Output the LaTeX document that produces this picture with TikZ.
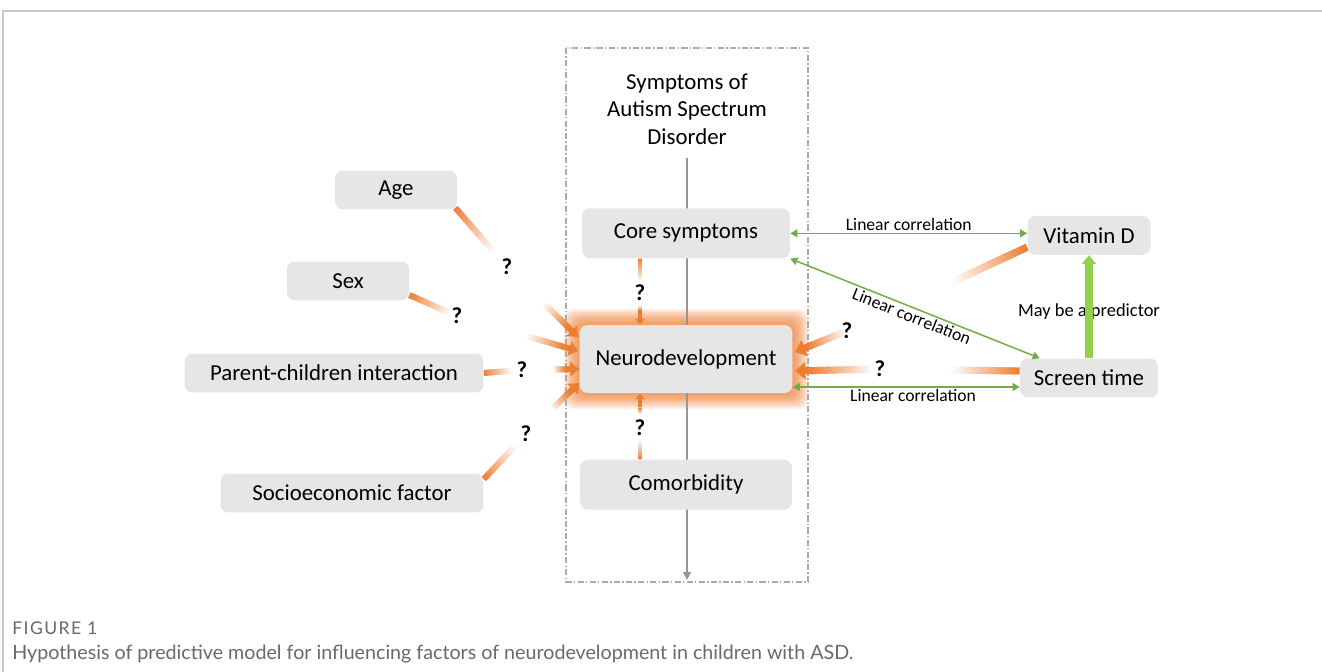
\documentclass[tikz,border=0pt]{standalone}
\usepackage{fontspec}
\setmainfont{Carlito}
\newfontfamily\capfont{Lato}
\newfontfamily\figfont[LetterSpace=8]{Lato}
\usepackage{tikz}
\usetikzlibrary{positioning, calc, arrows.meta, backgrounds}
\pgfdeclarelayer{edges}
\pgfsetlayers{background,edges,main}
\definecolor{boxgray}{RGB}{230, 230, 230}
\definecolor{myorange}{RGB}{237, 125, 49}
\definecolor{mygreen}{RGB}{112, 173, 71}
\definecolor{mylightgreen}{RGB}{146, 208, 80}
\definecolor{framegray}{RGB}{200, 200, 200}
\definecolor{axisgray}{RGB}{150, 150, 150}
\definecolor{capgray}{RGB}{105, 105, 105}

% orange line that fades out from #2 towards #3 (up to fraction #4)
\newcommand{\fadeout}[4][]{%
  \foreach \k in {1,...,20}{%
    \pgfmathsetmacro{\fa}{(\k-1)/20*#4}%
    \pgfmathsetmacro{\fb}{min(\k+0.6,20)/20*#4}%
    \pgfmathtruncatemacro{\fo}{100-(\k-0.5)*5}%
    \draw [fadeline, #1, draw = myorange!\fo!white] ($(#2)!\fa!(#3)$) -- ($(#2)!\fb!(#3)$);
  }}
% orange arrow that fades in from #2 (after fraction #4) to #3
\newcommand{\fadein}[4][]{%
  \coordinate (fs) at ($(#2)!#4!(#3)$);
  \coordinate (fe) at ($(#3)!8pt!(#2)$);
  \foreach \k in {1,...,20}{%
    \pgfmathsetmacro{\fa}{(\k-1)/20}%
    \pgfmathsetmacro{\fb}{min(\k+0.6,20)/20}%
    \pgfmathtruncatemacro{\fo}{5+95*(\k-0.5)/20}%
    \draw [fadeline, #1, draw = myorange!\fo!white] ($(fs)!\fa!(fe)$) -- ($(fs)!\fb!(fe)$);
  }
  \draw [fadeline, #1, -{Triangle[width=0pt 2.4, length=0pt 1.5]}] (fe) -- (#3);}

\begin{document}
\begin{tikzpicture}[x=0.02cm, y=-0.02cm, node distance = 1.32cm,
  state/.style={fill = boxgray, rounded corners = 0.16cm, align = center, inner sep = 0pt,
    minimum height = 0.78cm, font = \fontsize{13}{15.6}\selectfont},
  qmark/.style={font = \fontsize{13}{15}\selectfont\bfseries, inner sep = 1pt},
  fadeline/.style={draw = myorange, line width = 3.4pt},
  corr/.style={draw = mygreen, line width = 0.85pt,
    {Triangle[width=4.5pt, length=4pt]}-{Triangle[width=4.5pt, length=4pt]}},
  corrlabel/.style={font = \fontsize{10}{12}\selectfont, inner sep = 1pt},
  predict/.style={draw = mylightgreen, line width = 4pt, -{Triangle[width=8pt, length=5pt]}},
  axis/.style={draw = axisgray, line width = 1pt, -{Triangle[width=4.5pt, length=4.5pt]}},
  groupbox/.style={draw = axisgray!80, line width = 0.85pt,
    dash pattern = on 3.5pt off 1.3pt on 0.8pt off 1.3pt}]
  \useasboundingbox (0,0) rectangle (1322,672);
  \draw [framegray, line width = 0.9pt] (1322,11) -- (3,11) -- (3,672);

  % nodes
  \node [state, minimum width = 4.26cm, minimum height = 1.36cm] (neuro) at (686,359) {Neurodevelopment};
  \node [state, minimum width = 4.16cm, minimum height = 1cm][above = of neuro] (core) {Core symptoms};
  \node [state, minimum width = 4.24cm, minimum height = 1cm][below = of neuro] (comor) {Comorbidity};
  \node [align = center, font = \fontsize{13}{15.6}\selectfont] (title) at (687,109) {Symptoms of\\Autism Spectrum\\Disorder};
  \node [state, minimum width = 2.44cm] (age) at (396,190) {Age};
  \node [state, minimum width = 2.44cm] (sex) at (348,281) {Sex};
  \node [state, minimum width = 5.98cm] (parent) at (334,373) {Parent-children interaction};
  \node [state, minimum width = 5.26cm] (socio) at (352,493) {Socioeconomic factor};
  \node [state, minimum width = 2.76cm] (screen) at (1089,378) {Screen time};
  \node [state, minimum width = 2.46cm][above = 2.06cm of screen] (vitd) {Vitamin D};

  \node [qmark] (qage) at (507,267) {?};
  \node [qmark] (qsex) at (457,316) {?};
  \node [qmark] (qparent) at (522,370) {?};
  \node [qmark] (qsocio) at (526,434) {?};
  \node [qmark] (qcore) at (640,293) {?};
  \node [qmark] (qcomor) at (640,428) {?};
  \node [qmark] (qvitd) at (847,331) {?};
  \node [qmark] (qscreen) at (880,369) {?};

  \node [corrlabel, font = \fontsize{10.5}{12}\selectfont] (predlabel) at ($(screen.north)!0.45!(vitd.south)$) {May be a predictor};

  \coordinate (age-out) at ($(age.south east)+(-2,-2)$);
  \coordinate (sex-out) at ($(sex.east)+(0,14)$);
  \coordinate (parent-out) at (parent.east);
  \coordinate (socio-out) at ($(socio.north east)+(0,6)$);
  \coordinate (core-out) at (core.south -| qcore);
  \coordinate (comor-out) at (comor.north -| qcomor);
  \coordinate (vitd-out) at ($(vitd.south west)+(0,-8)$);
  \coordinate (screen-out) at ($(screen.west)+(0,-7)$);
  \coordinate (n-age) at ($(neuro.west)+(-1,-22)$);
  \coordinate (n-sex) at ($(neuro.west)+(-1,-8)$);
  \coordinate (n-parent) at ($(neuro.west)+(0,10)$);
  \coordinate (n-socio) at ($(neuro.west)+(0,24)$);
  \coordinate (n-core) at (neuro.north -| qcore);
  \coordinate (n-comor) at (neuro.south -| qcomor);
  \coordinate (n-vitd) at ($(neuro.east)+(2,-7)$);
  \coordinate (n-screen) at ($(neuro.east)+(2,12)$);
  \coordinate (n-low) at ($(neuro.east)+(0,28)$);
  \coordinate (scr-top) at ($(screen.north west)+(20,0)$);
  \coordinate (axis-end) at (687,580);

  % glow, group box and axis
  \begin{scope}[on background layer]
    \foreach \g in {1,...,12}
      \fill [myorange, opacity = 0.1, rounded corners = 0.2cm]
        ($(neuro.south west)+(-1.3*\g,1.3*\g)$) rectangle ($(neuro.north east)+(1.3*\g,-1.3*\g)$);
    \draw [groupbox] (566,48) rectangle (808,582);
    \draw [axis, shorten <= 4pt] (title.south) -- (axis-end);
  \end{scope}

  % orange edges
  \begin{pgfonlayer}{edges}
    \fadeout{age-out}{qage}{0.75}
    \fadein{qage}{n-age}{0.53}
    \fadeout{sex-out}{qsex}{0.88}
    \fadein{qsex}{n-sex}{0.58}
    \fadeout{parent-out}{qparent}{0.74}
    \fadein{qparent}{n-parent}{0.55}
    \fadeout{socio-out}{qsocio}{0.75}
    \fadein{qsocio}{n-socio}{0.5}
    \fadeout[line width = 2.3pt]{core-out}{qcore}{0.68}
    \fadein[line width = 2.3pt]{qcore}{n-core}{0.4}
    \fadeout[line width = 2.3pt]{comor-out}{qcomor}{0.6}
    \fadein[line width = 2.3pt]{qcomor}{n-comor}{0.42}
    \fadeout[line width = 4.2pt]{vitd-out}{qvitd}{0.42}
    \fadein[line width = 4pt]{qvitd}{n-vitd}{0.05}
    \fadeout[line width = 4pt]{screen-out}{qscreen}{0.5}
    \fadein[line width = 4pt]{qscreen}{n-screen}{0.1}
  \end{pgfonlayer}

  % green edges
  \draw [corr] (core.east) -- (core.east -| vitd.west) node [midway, above, corrlabel] {Linear correlation};
  \draw [corr] (core.south east) -- (scr-top) node [midway, below, sloped, corrlabel] {Linear correlation};
  \draw [corr] (n-low) -- (n-low -| screen.west) node [pos = 0.53, below, corrlabel] {Linear correlation};
  \draw [predict] (screen.north) -- (vitd.south);

  % caption
  \node [anchor = west, inner sep = 0pt, text = capgray, font = \figfont\fontsize{10}{12}\selectfont] (figlabel) at (12,628) {FIGURE 1};
  \node [anchor = west, inner sep = 0pt, text = capgray, font = \capfont\fontsize{11.2}{13}\selectfont] (caption) at (12,654)
    {Hypothesis of predictive model for influencing factors of neurodevelopment in children with ASD.};
\end{tikzpicture}
\end{document}
